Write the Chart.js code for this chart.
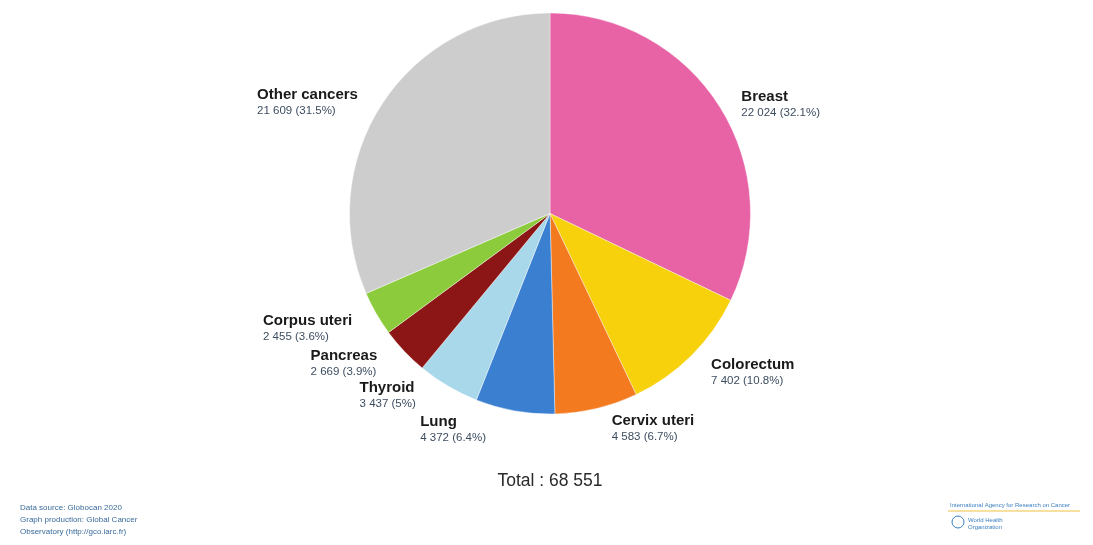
<!DOCTYPE html>
<html lang="en">
<head>
    <meta charset="UTF-8">
    <title>Cancer cases - women</title>
    <script src="https://cdn.jsdelivr.net/npm/chart.js"></script>
    <style>
        body { margin: 0; background: #fff; }
        #wrap { position: relative; width: 1093px; height: 545px; }
    </style>
</head>
<body>
    <div id="wrap"><canvas id="pieChart"></canvas></div>

    <script>
        // data
        const cancerNames = ["Breast", "Colorectum", "Cervix uteri", "Lung", "Thyroid", "Pancreas", "Corpus uteri", "Other cancers"];
        const cancerCases = [22024, 7402, 4583, 4372, 3437, 2669, 2455, 21609];
        const cancerShares = ["32.1%", "10.8%", "6.7%", "6.4%", "5%", "3.9%", "3.6%", "31.5%"];
        const totalText = "Total : 68 551";

        const sliceColors = ["#E862A6", "#F7D10C", "#F47A20", "#3B80D0", "#A9D8EA", "#8C1616", "#8CCB3C", "#CDCDCD"];
        // small nudges for label blocks (dx, dy) so they sit like the original
        const labelNudge = [[3, 10], [4, 2], [10, -1], [-25, -3], [-21, -9], [-11, -2], [-5, 4], [-6, 11]];

        function fmt(n) {
            return String(n).replace(/\B(?=(\d{3})+(?!\d))/g, " ");
        }

        const labelPlugin = {
            id: "sliceLabels",
            afterDatasetsDraw(chart) {
                const ctx = chart.ctx;
                const arcs = chart.getDatasetMeta(0).data;
                ctx.save();
                arcs.forEach((arc, i) => {
                    const p = arc.getProps(["x", "y", "startAngle", "endAngle", "outerRadius"], true);
                    const mid = (p.startAngle + p.endAngle) / 2;
                    const r = p.outerRadius + 22;
                    const ax = p.x + Math.cos(mid) * r + labelNudge[i][0];
                    const ay = p.y + Math.sin(mid) * r + labelNudge[i][1];
                    const name = cancerNames[i];
                    const value = fmt(cancerCases[i]) + " (" + cancerShares[i] + ")";

                    ctx.font = "bold 15px 'Liberation Sans', Arial, sans-serif";
                    const w1 = ctx.measureText(name).width;
                    ctx.font = "11.5px 'Liberation Sans', Arial, sans-serif";
                    const w2 = ctx.measureText(value).width;
                    const left = Math.cos(mid) < 0 ? ax - Math.max(w1, w2) : ax;

                    ctx.textAlign = "left";
                    ctx.textBaseline = "middle";
                    ctx.fillStyle = "#1a1a1a";
                    ctx.font = "bold 15px 'Liberation Sans', Arial, sans-serif";
                    ctx.fillText(name, left, ay - 8);
                    ctx.fillStyle = "#3d4d60";
                    ctx.font = "11.5px 'Liberation Sans', Arial, sans-serif";
                    ctx.fillText(value, left, ay + 8);
                });

                // total under the pie
                const a0 = arcs[0];
                ctx.textAlign = "center";
                ctx.fillStyle = "#2a2a2a";
                ctx.font = "17.5px 'Liberation Sans', Arial, sans-serif";
                ctx.fillText(totalText, a0.x, a0.y + a0.outerRadius + 67);

                // footer notes
                ctx.textAlign = "left";
                ctx.font = "8px 'Liberation Sans', Arial, sans-serif";
                ctx.fillStyle = "#3a6a9a";
                ctx.fillText("Data source: Globocan 2020", 20, 508);
                ctx.fillText("Graph production: Global Cancer", 20, 520);
                ctx.fillText("Observatory (http://gco.iarc.fr)", 20, 532);

                ctx.font = "6px 'Liberation Sans', Arial, sans-serif";
                ctx.fillStyle = "#3a80c0";
                ctx.fillText("International Agency for Research on Cancer", 950, 505);
                ctx.strokeStyle = "#f0c040";
                ctx.lineWidth = 1;
                ctx.beginPath();
                ctx.moveTo(948, 511);
                ctx.lineTo(1080, 511);
                ctx.stroke();
                ctx.strokeStyle = "#3a80c0";
                ctx.beginPath();
                ctx.arc(958, 522, 6, 0, Math.PI * 2);
                ctx.stroke();
                ctx.fillText("World Health", 968, 520);
                ctx.fillText("Organization", 968, 527);
                ctx.restore();
            }
        };

        new Chart(document.getElementById("pieChart"), {
            type: "pie",
            data: {
                labels: cancerNames,
                datasets: [{
                    data: cancerCases,
                    backgroundColor: sliceColors,
                    borderColor: "rgba(255,255,255,0.4)",
                    borderWidth: 1
                }]
            },
            options: {
                responsive: true,
                maintainAspectRatio: false,
                animation: false,
                layout: { padding: { left: 349, right: 342, top: 12, bottom: 130 } },
                plugins: {
                    legend: { display: false },
                    tooltip: { enabled: false }
                }
            },
            plugins: [labelPlugin]
        });
    </script>
</body>
</html>
